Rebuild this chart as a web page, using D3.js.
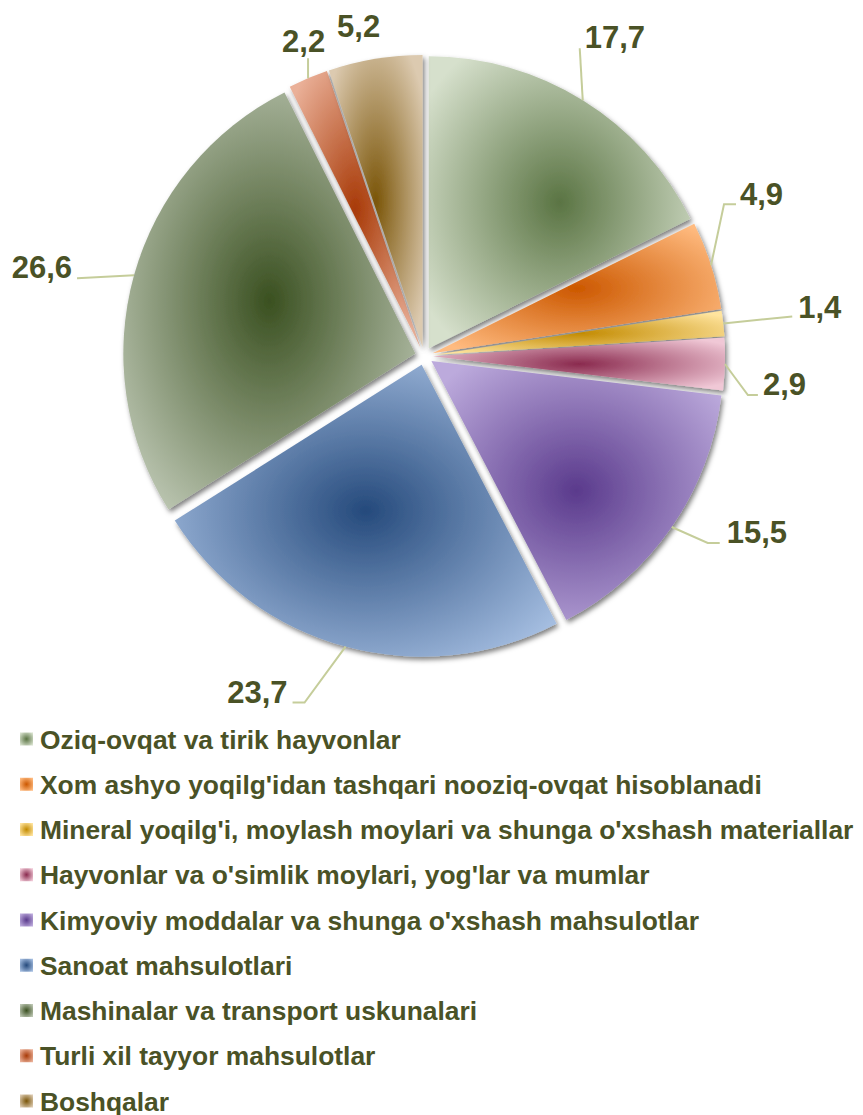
<!DOCTYPE html>
<html>
<head>
<meta charset="utf-8">
<script src="https://cdn.jsdelivr.net/npm/d3@7"></script>
<style>
  body { margin: 0; background: #fff; }
  text { font-family: "Liberation Sans", Arial, sans-serif; font-weight: bold; fill: #4a5226; }
</style>
</head>
<body>
<div id="chart"></div>
<script>
const categories = [
  "Oziq-ovqat va tirik hayvonlar",
  "Xom ashyo yoqilg'idan tashqari nooziq-ovqat hisoblanadi",
  "Mineral yoqilg'i, moylash moylari va shunga o'xshash materiallar",
  "Hayvonlar va o'simlik moylari, yog'lar va mumlar",
  "Kimyoviy moddalar va shunga o'xshash mahsulotlar",
  "Sanoat mahsulotlari",
  "Mashinalar va transport uskunalari",
  "Turli xil tayyor mahsulotlar",
  "Boshqalar"
];
const values = [17.7, 4.9, 1.4, 2.9, 15.5, 23.7, 26.6, 2.2, 5.2];

// gradient colours: centre (dark) and edge (light)
const darkColors = ["#5a7443", "#cc5800", "#c28a00", "#8a2a4e", "#5a3a8c", "#254a7c", "#3a5020", "#a83a08", "#7a5508"];
const lightColors = ["#d6e0cc", "#ffbb80", "#ffe49e", "#f0c8d6", "#bcaadc", "#a4bde0", "#bcc6b2", "#eab098", "#dccab0"];

// label leader layout, relative to the slice's outer point (elbow, end, text offset from end)
const labelLayout = [
  { elbow: null,      end: [-3, -52],  text: [5, 0, "start"] },
  { elbow: [13, -61], end: [25, -61],  text: [4, 1, "start"] },
  { elbow: null,      end: [69, -7],   text: [6, 2, "start"] },
  { elbow: [23, 31],  end: [33, 31],   text: [5, 0, "start"] },
  { elbow: [36, 16],  end: [48, 16],   text: [7, 0, "start"] },
  { elbow: [-41, 56], end: [-53, 56],  text: [-5, 0, "end"] },
  { elbow: null,      end: [-57, 3],   text: [-5, 0, "end"] },
  { elbow: null,      end: [0, -20],   text: [-26, -6, "start"] },
  { elbow: null,      end: null,       text: [-38, -22, "start"] }
];

const width = 863;
const height = 1115;
const cx = 424, cy = 356;
const radius = 292;
const explode = 9;

const svg = d3.select("#chart").append("svg")
  .attr("width", width)
  .attr("height", height);

const defs = svg.append("defs");

const shadow = defs.append("filter")
  .attr("id", "shadow")
  .attr("x", "-20%").attr("y", "-20%")
  .attr("width", "140%").attr("height", "140%");
shadow.append("feDropShadow")
  .attr("dx", 2).attr("dy", 3)
  .attr("stdDeviation", 2.5)
  .attr("flood-color", "#000")
  .attr("flood-opacity", 0.5);

categories.forEach((c, i) => {
  const g = defs.append("radialGradient")
    .attr("id", "grad" + i)
    .attr("cx", 0.5).attr("cy", 0.5).attr("r", 0.62);
  g.append("stop").attr("offset", 0).attr("stop-color", darkColors[i]);
  g.append("stop").attr("offset", 1).attr("stop-color", lightColors[i]);
});

const pie = d3.pie().sort(null).value((d) => d);
const arcs = pie(values);
const arc = d3.arc().innerRadius(0).outerRadius(radius);

const mid = (d) => (d.startAngle + d.endAngle) / 2;

const pieG = svg.append("g").attr("transform", `translate(${cx},${cy})`);

pieG.selectAll("path")
  .data(arcs)
  .join("path")
  .attr("transform", (d) => `translate(${Math.sin(mid(d)) * explode},${-Math.cos(mid(d)) * explode})`)
  .attr("d", arc)
  .attr("fill", (d, i) => `url(#grad${i})`)
  .attr("filter", "url(#shadow)");

// data labels with leader lines
const fmt = (v) => v.toFixed(1).replace(".", ",");
const labelG = pieG.append("g");

arcs.forEach((d, i) => {
  const a = mid(d);
  const rr = radius + explode;
  const ex = Math.sin(a) * rr, ey = -Math.cos(a) * rr;
  const lay = labelLayout[i];
  let tx, ty;
  if (lay.end) {
    const pts = [[ex, ey]];
    if (lay.elbow) pts.push([ex + lay.elbow[0], ey + lay.elbow[1]]);
    const endPt = [ex + lay.end[0], ey + lay.end[1]];
    pts.push(endPt);
    labelG.append("path")
      .attr("d", d3.line()(pts))
      .attr("fill", "none")
      .attr("stroke", "#c5cd9a")
      .attr("stroke-width", 2);
    tx = endPt[0] + lay.text[0];
    ty = endPt[1] + lay.text[1];
  } else {
    tx = ex + lay.text[0];
    ty = ey + lay.text[1];
  }
  labelG.append("text")
    .attr("x", tx).attr("y", ty)
    .attr("text-anchor", lay.text[2])
    .attr("font-size", 31)
    .text(fmt(values[i]));
});

// legend
const legendY = d3.scaleLinear().domain([0, categories.length - 1]).range([739, 1101]);
const legend = svg.append("g");
const item = legend.selectAll("g")
  .data(categories)
  .join("g")
  .attr("transform", (d, i) => `translate(0,${legendY(i)})`);

item.append("rect")
  .attr("x", 20).attr("y", -6.5)
  .attr("width", 13).attr("height", 13)
  .attr("fill", (d, i) => `url(#grad${i})`);

item.append("text")
  .attr("x", 40).attr("y", 9.5)
  .attr("font-size", 26.4)
  .text((d) => d);
</script>
</body>
</html>
